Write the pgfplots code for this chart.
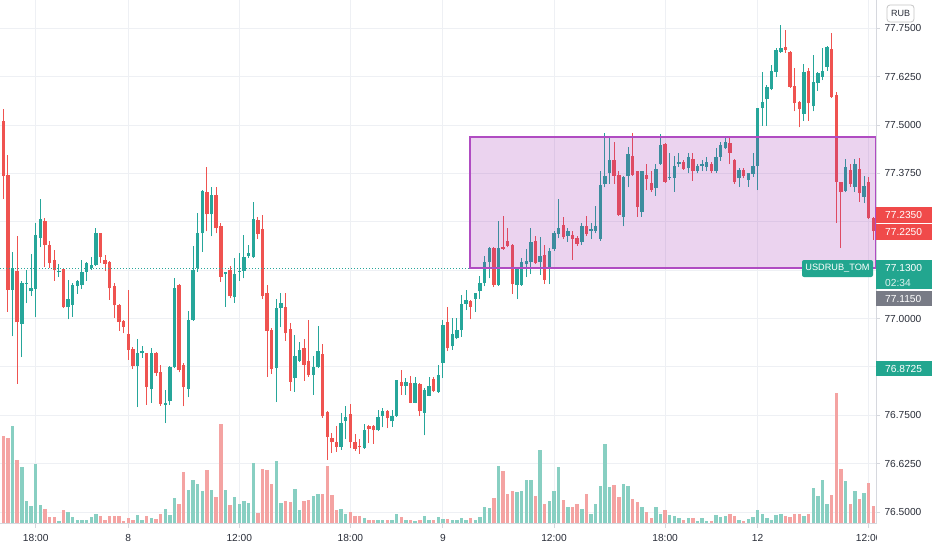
\documentclass[border=0pt]{standalone}
\usepackage{fontspec}
\setmainfont{Liberation Sans}
\usepackage{pgfplots}
\usepackage{pgfplotstable}
\pgfplotsset{compat=1.18}
\definecolor{upc}{HTML}{26A69A}
\definecolor{dnc}{HTML}{EF5350}
\definecolor{volup}{HTML}{88CFC2}
\definecolor{voldn}{HTML}{F4A3A2}
\definecolor{gridc}{HTML}{EEF0F4}
\definecolor{txt}{HTML}{2A2E39}
\definecolor{rectc}{HTML}{9C27B0}
\definecolor{rectb}{HTML}{B04CC2}
\definecolor{graylab}{HTML}{787B86}
\definecolor{axc}{HTML}{D6D8DE}
\definecolor{redlab}{HTML}{F04A4A}
\definecolor{teallab}{HTML}{22A68F}
\pgfplotsset{candle/.style 2 args={draw=none, mark=none, forget plot,
  error bars/.cd, y dir=plus, y explicit, error mark=none,
  error bar style={draw=#1, line width=#2}}}

\pgfplotstableread{
i o h l c v
2 77.074 77.171 76.954 77.130 97.3
4 76.986 77.097 76.900 77.093 56.7
5 77.089 77.126 77.040 77.093 22.7
6 77.070 77.166 77.059 77.078 17.3
7 77.076 77.248 77.005 77.216 59.3
8 77.209 77.308 77.184 77.258 19
12 77.119 77.141 77.107 77.123 2.7
14 77.029 77.100 76.998 77.051 11.3
15 77.036 77.093 77.004 77.087 6.7
16 77.085 77.100 77.064 77.096 3.3
17 77.086 77.152 77.076 77.121 3.3
18 77.120 77.146 77.098 77.143 3.3
19 77.130 77.160 77.126 77.138 6.7
20 77.139 77.233 77.136 77.220 10
29 76.878 76.947 76.771 76.912 8.3
30 76.910 76.929 76.899 76.915 3.3
32 76.817 76.923 76.783 76.912 5.7
35 76.777 76.816 76.730 76.783 15
36 76.786 76.878 76.777 76.876 8.3
37 76.874 77.104 76.872 77.080 25.7
40 76.819 77.020 76.796 76.995 33.3
41 76.996 77.188 76.994 77.126 43.3
42 77.130 77.274 77.121 77.220 39.3
43 77.220 77.332 77.173 77.330 32.7
45 77.269 77.339 77.212 77.319 34
48 77.114 77.121 77.031 77.119 33.3
50 77.055 77.156 77.041 77.114 26.7
51 77.121 77.170 77.098 77.124 20
52 77.124 77.216 77.104 77.158 22.7
53 77.162 77.190 77.156 77.170 21
54 77.158 77.300 77.156 77.257 60.7
59 76.873 77.050 76.784 77.027 62.7
60 77.027 77.065 76.977 77.039 21
63 76.846 76.958 76.811 76.904 34.3
64 76.891 76.939 76.889 76.919 14
67 76.854 76.903 76.803 76.874 27.3
68 76.874 76.981 76.872 76.916 29.3
73 76.668 76.755 76.661 76.729 14.3
74 76.736 76.773 76.688 76.745 10
78 76.665 76.728 76.663 76.712 5.3
81 76.711 76.764 76.709 76.745 4
82 76.748 76.768 76.719 76.762 4
84 76.734 76.764 76.721 76.748 4
85 76.748 76.842 76.746 76.840 9.3
87 76.826 76.846 76.803 76.837 3.3
89 76.783 76.848 76.781 76.833 2.7
91 76.757 76.820 76.698 76.816 7.3
92 76.801 76.848 76.799 76.826 4
94 76.810 76.880 76.808 76.854 6.7
95 76.886 76.996 76.846 76.984 5
97 76.928 77.001 76.919 76.960 4
98 76.949 77.001 76.947 76.971 3.3
99 76.971 77.061 76.953 77.038 5.3
100 77.038 77.074 77.022 77.048 3.3
102 77.050 77.067 77.018 77.065 3.3
103 77.070 77.110 77.050 77.093 6.7
104 77.091 77.162 77.083 77.147 16.7
105 77.147 77.184 77.104 77.182 16
107 77.087 77.253 77.085 77.182 57.3
111 77.087 77.134 77.050 77.130 31.3
112 77.087 77.156 77.085 77.147 32.3
113 77.140 77.180 77.107 77.149 43.3
114 77.145 77.233 77.115 77.197 44
116 77.147 77.212 77.113 77.162 73.3
118 77.134 77.182 77.089 77.175 22.7
119 77.179 77.225 77.175 77.220 32.3
120 77.219 77.308 77.207 77.233 56.7
122 77.214 77.233 77.199 77.225 16.7
125 77.197 77.246 77.190 77.238 15
127 77.227 77.246 77.205 77.231 10
128 77.227 77.291 77.220 77.239 20
129 77.205 77.382 77.201 77.345 37.3
130 77.348 77.480 77.339 77.368 79.3
131 77.375 77.466 77.348 77.410 36.7
134 77.263 77.368 77.238 77.366 39.3
135 77.368 77.442 77.339 77.425 37.3
138 77.276 77.382 77.263 77.380 16.7
141 77.337 77.399 77.317 77.386 16.7
142 77.399 77.476 77.397 77.448 10
144 77.364 77.429 77.358 77.367 8.3
145 77.364 77.420 77.328 77.394 7.3
146 77.399 77.429 77.392 77.404 5.7
148 77.390 77.429 77.375 77.417 5.7
150 77.380 77.399 77.375 77.395 2.7
151 77.394 77.410 77.382 77.399 5.7
152 77.391 77.417 77.380 77.404 2.7
154 77.380 77.440 77.377 77.417 8.3
155 77.418 77.455 77.408 77.448 6.7
156 77.440 77.466 77.437 77.455 7.3
159 77.362 77.388 77.341 77.384 3.3
161 77.358 77.377 77.341 77.375 4.3
162 77.373 77.429 77.367 77.394 6.7
163 77.394 77.543 77.332 77.543 13.3
164 77.543 77.638 77.498 77.560 9.3
165 77.567 77.604 77.498 77.599 5.7
166 77.593 77.655 77.590 77.640 4
167 77.638 77.698 77.625 77.694 8.3
168 77.690 77.758 77.686 77.700 10
173 77.529 77.658 77.511 77.638 7.3
175 77.548 77.681 77.535 77.610 36
176 77.608 77.638 77.589 77.634 27.3
177 77.625 77.698 77.616 77.640 44
178 77.650 77.703 77.640 77.701 20
182 77.330 77.411 77.326 77.392 42.3
184 77.341 77.411 77.328 77.399 32.3
186 77.315 77.368 77.298 77.343 31
}\uptab

\pgfplotstableread{
i o h l c v
0 77.510 77.541 77.308 77.368 87.3
1 77.370 77.423 77.018 77.074 85.7
3 77.122 77.212 76.831 76.990 63.3
9 77.252 77.261 77.134 77.191 14.3
10 77.189 77.201 77.130 77.143 6.7
11 77.152 77.178 77.098 77.126 6.7
13 77.128 77.130 77.027 77.029 13.3
21 77.220 77.222 77.143 77.159 7.7
22 77.152 77.165 77.124 77.141 3.3
23 77.146 77.148 77.048 77.078 7.3
24 77.085 77.093 77.001 77.034 7.3
25 77.036 77.038 76.969 76.991 7.3
26 76.994 76.997 76.962 76.979 2.7
27 76.960 77.074 76.893 76.919 5.7
28 76.921 76.926 76.869 76.878 3.3
31 76.910 76.912 76.777 76.824 7.3
33 76.911 76.913 76.852 76.860 4.7
34 76.861 76.880 76.775 76.779 9.3
38 77.087 77.089 76.861 76.867 20
39 76.880 76.885 76.773 76.822 52
44 77.328 77.391 77.225 77.269 54
46 77.319 77.339 77.220 77.233 26.7
47 77.239 77.248 77.095 77.108 99.3
49 77.126 77.136 77.052 77.057 18.3
55 77.255 77.263 77.205 77.219 10.7
56 77.231 77.268 77.050 77.058 55
57 77.065 77.087 76.850 76.968 54
58 76.971 76.975 76.857 76.870 39.3
61 77.029 77.065 76.943 76.962 22.7
62 76.972 76.988 76.814 76.837 21.7
65 76.925 76.947 76.839 76.880 22.3
66 76.891 76.995 76.850 76.854 24
69 76.909 76.933 76.744 76.747 29.3
70 76.758 76.760 76.635 76.695 57.3
71 76.692 76.704 76.652 76.680 28.3
72 76.680 76.723 76.656 76.669 13.3
75 76.753 76.779 76.665 76.680 11.3
76 76.680 76.702 76.659 76.663 7.3
77 76.671 76.689 76.650 76.667 7.3
79 76.723 76.725 76.678 76.715 3.3
80 76.723 76.725 76.676 76.711 3.3
83 76.762 76.764 76.717 76.742 4
86 76.837 76.867 76.803 76.826 6.7
88 76.833 76.852 76.781 76.783 4
90 76.831 76.833 76.748 76.760 4
93 76.843 76.848 76.810 76.813 3.3
96 76.990 77.031 76.916 76.923 4.5
101 77.046 77.048 76.998 77.031 5.3
106 77.181 77.184 77.081 77.087 25.7
108 77.186 77.265 77.178 77.180 52.3
109 77.200 77.235 77.184 77.188 30
110 77.190 77.192 77.064 77.089 32.3
115 77.201 77.213 77.141 77.143 27.3
117 77.164 77.190 77.089 77.100 20
121 77.242 77.263 77.205 77.210 24
123 77.216 77.225 77.151 77.205 16.7
124 77.207 77.213 77.188 77.193 20
126 77.239 77.265 77.213 77.219 29.3
132 77.410 77.455 77.348 77.369 38.3
133 77.371 77.382 77.265 77.268 26.7
136 77.420 77.480 77.368 77.371 25
137 77.380 77.382 77.263 77.289 21.7
139 77.371 77.399 77.331 77.360 11.3
140 77.349 77.380 77.328 77.332 5.7
143 77.451 77.453 77.351 77.354 13.3
147 77.404 77.410 77.384 77.387 4
149 77.412 77.427 77.356 77.380 5.7
153 77.399 77.405 77.377 77.380 2.7
157 77.454 77.466 77.399 77.429 9.3
158 77.410 77.412 77.348 77.352 7.3
160 77.384 77.388 77.362 77.368 2.7
169 77.701 77.745 77.687 77.694 7.3
170 77.690 77.692 77.597 77.599 6.7
171 77.601 77.647 77.535 77.556 9.3
172 77.560 77.562 77.494 77.541 10
174 77.640 77.647 77.511 77.556 10
179 77.696 77.737 77.571 77.573 28.3
180 77.578 77.586 77.248 77.354 131
181 77.352 77.354 77.182 77.328 54.7
183 77.385 77.400 77.340 77.348 20
185 77.386 77.414 77.302 77.324 24.7
187 77.352 77.367 77.257 77.259 41
188 77.259 77.262 77.203 77.225 17.7
}\dntab

\begin{document}
\begin{tikzpicture}[x=1pt,y=1pt]
\useasboundingbox (0,0) rectangle (932,550);
\fill[white] (0,0) rectangle (932,550);
\begin{axis}[
  at={(0pt,26.5pt)}, anchor=south west,
  scale only axis, width=876pt, height=523.5pt,
  xmin=-0.713, xmax=188.57, ymin=76.4704, ymax=77.8231,
  axis line style={draw=none},
  xtick={7,27,51,75,95,119,143,163,187},
  xticklabels={18:00,8,12:00,18:00,9,12:00,18:00,12,12:00},
  ytick={76.5,76.625,76.75,76.875,77,77.125,77.25,77.375,77.5,77.625,77.75},
  yticklabels={76.5000,76.6250,76.7500,{},77.0000,{},{},77.3750,77.5000,77.6250,77.7500},
  xtick pos=left, ytick pos=right, yticklabel pos=right,
  tick align=outside, major tick length=4pt,
  tick style={draw=axc, line width=1pt},
  grid=major, major grid style={draw=gridc, line width=1pt},
  ticklabel style={font=\fontsize{10.2}{12}\selectfont, text=txt},
  yticklabel style={anchor=west, xshift=1pt},
  xticklabel style={anchor=base, yshift=-13.5pt},
]
% volume
\addplot[candle={volup}{3.4pt}]
  table[x=i, y expr=76.4704, y error plus expr=\thisrow{v}*0.002584] {\uptab};
\addplot[candle={voldn}{3.4pt}]
  table[x=i, y expr=76.4704, y error plus expr=\thisrow{v}*0.002584] {\dntab};
% wicks
\addplot[candle={upc}{1pt}]
  table[x=i, y=l, y error plus expr=\thisrow{h}-\thisrow{l}] {\uptab};
\addplot[candle={dnc}{1pt}]
  table[x=i, y=l, y error plus expr=\thisrow{h}-\thisrow{l}] {\dntab};
% bodies
\addplot[candle={upc}{3.4pt}]
  table[x=i, y=o, y error plus expr=\thisrow{c}-\thisrow{o}] {\uptab};
\addplot[candle={dnc}{3.4pt}]
  table[x=i, y=c, y error plus expr=\thisrow{o}-\thisrow{c}] {\dntab};
% price line
\addplot[draw=upc, line width=1pt, dash pattern=on 1pt off 2pt] coordinates {(-0.713,77.13) (188.57,77.13)};
% rectangle
\addplot[draw=rectb, line width=1.6pt, fill=rectc, fill opacity=0.2, draw opacity=1]
  coordinates {(100.85,77.131) (188.57,77.131) (188.57,77.469) (100.85,77.469)} -- cycle;
\end{axis}
% axis lines
\draw[axc, line width=1pt] (0,26.5) -- (876,26.5) -- (876,550);
% hide overflow of last time label
\fill[white] (876.6,0) rectangle (932,26);
% RUB label
\draw[gray!45, line width=0.8pt, rounded corners=3pt, fill=white] (887,528) rectangle (914,545);
\node[text=txt, font=\fontsize{9}{10}\selectfont] at (900.5,536.5) {RUB};
% price labels
\fill[redlab] (876,327.5) rectangle (932,343);
\node[anchor=west, text=white, font=\fontsize{10.2}{12}\selectfont, inner sep=0pt] at (885,335.2) {77.2350};
\fill[redlab] (876,310.5) rectangle (932,326);
\node[anchor=west, text=white, font=\fontsize{10.2}{12}\selectfont, inner sep=0pt] at (885,318.2) {77.2250};
\fill[teallab, rounded corners=2pt] (802,273) rectangle (873,290);
\node[text=white, font=\fontsize{9.2}{11}\selectfont, inner sep=0pt] at (837.5,281.5) {USDRUB\_TOM};
\fill[teallab] (876,261) rectangle (932,290);
\node[anchor=west, text=white, font=\fontsize{10.2}{12}\selectfont, inner sep=0pt] at (885,282) {77.1300};
\node[anchor=west, text=white!85!teallab, font=\fontsize{10.2}{12}\selectfont, inner sep=0pt] at (885,267.3) {02:34};
\fill[graylab] (876,244) rectangle (932,259);
\node[anchor=west, text=white, font=\fontsize{10.2}{12}\selectfont, inner sep=0pt] at (885,251.5) {77.1150};
\fill[teallab] (876,174) rectangle (932,189);
\node[anchor=west, text=white, font=\fontsize{10.2}{12}\selectfont, inner sep=0pt] at (885,181.5) {76.8725};
\end{tikzpicture}
\end{document}
